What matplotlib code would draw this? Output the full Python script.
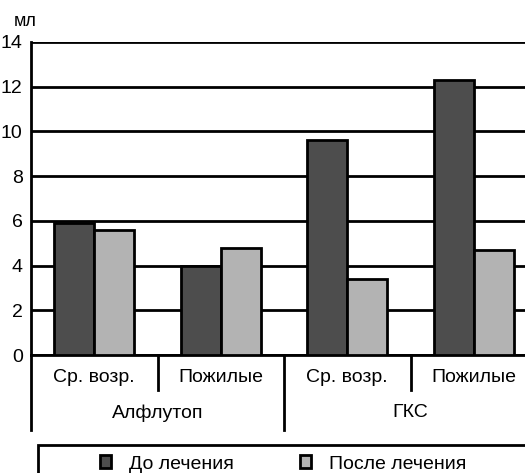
import matplotlib
matplotlib.use("Agg")
import matplotlib.pyplot as plt
from matplotlib.patches import Patch, Rectangle
import matplotlib.transforms as mtransforms

plt.rcParams["font.family"] = ["Liberation Sans", "DejaVu Sans"]

# data
subgroups = ["Ср. возр.", "Пожилые", "Ср. возр.", "Пожилые"]
groups = ["Алфлутоп", "ГКС"]
before = [5.9, 4.0, 9.6, 12.3]
after = [5.6, 4.8, 3.4, 4.7]
series_names = ["До лечения", "После лечения"]
yticks = [0, 2, 4, 6, 8, 10, 12, 14]

DARK = "#4d4d4d"
LIGHT = "#b3b3b3"
FS = 14

W, H = 525, 473
fig = plt.figure(figsize=(W / 100, H / 100), dpi=100)
ax = fig.add_axes([31 / W, 1 - 355 / H, (537 - 31) / W, (355 - 42) / H])

x = list(range(len(subgroups)))
bw = 0.316
ax.bar([i - bw / 2 for i in x], before, width=bw, color=DARK,
       edgecolor="black", linewidth=2, zorder=3)
ax.bar([i + bw / 2 for i in x], after, width=bw, color=LIGHT,
       edgecolor="black", linewidth=2, zorder=3)

ax.set_xlim(-0.5, 3.5)
ax.set_ylim(0, 14)
ax.set_yticks(yticks)
ax.tick_params(axis="y", length=0, labelsize=FS, pad=6)
ax.grid(axis="y", color="black", linewidth=2, zorder=0)
ax.set_xticks([])
for s in ["top", "right"]:
    ax.spines[s].set_visible(False)
ax.spines["left"].set_linewidth(2)
ax.spines["bottom"].set_linewidth(2)

# category labels and separators below the axis
tr = mtransforms.blended_transform_factory(ax.transData, ax.transAxes)
for i, lab in enumerate(subgroups):
    ax.text(i, -0.073, lab, transform=tr, ha="center", va="center", fontsize=FS)
for g, lab in enumerate(groups):
    ax.text(2 * g + 0.5, -0.185, lab, transform=tr, ha="center", va="center", fontsize=FS)
for xs in [0.5, 2.5]:
    ax.plot([xs, xs], [0, -0.112], transform=tr, color="black", lw=2, clip_on=False)
for xs in [-0.5, 1.5, 3.5]:
    ax.plot([xs, xs], [0, -0.24], transform=tr, color="black", lw=2, clip_on=False)

ax.text(25 / W, 1 - 22 / H, "мл", transform=fig.transFigure, ha="center",
        va="center", fontsize=FS - 1)

# legend box
fig.patches.append(Rectangle((38 / W, -0.05), 1.0, 1 - 445 / H + 0.05,
                             transform=fig.transFigure, fill=False,
                             edgecolor="black", linewidth=2))
handles = [Patch(facecolor=DARK, edgecolor="black", linewidth=2),
           Patch(facecolor=LIGHT, edgecolor="black", linewidth=2)]
fig.legend(handles, series_names, ncol=2, loc="center left",
           bbox_to_anchor=(82 / W, 1 - 464 / H), frameon=False, fontsize=FS,
           handlelength=0.6, handleheight=0.6, handletextpad=0.9,
           columnspacing=3.4)

fig.savefig("out.png", dpi=100)
